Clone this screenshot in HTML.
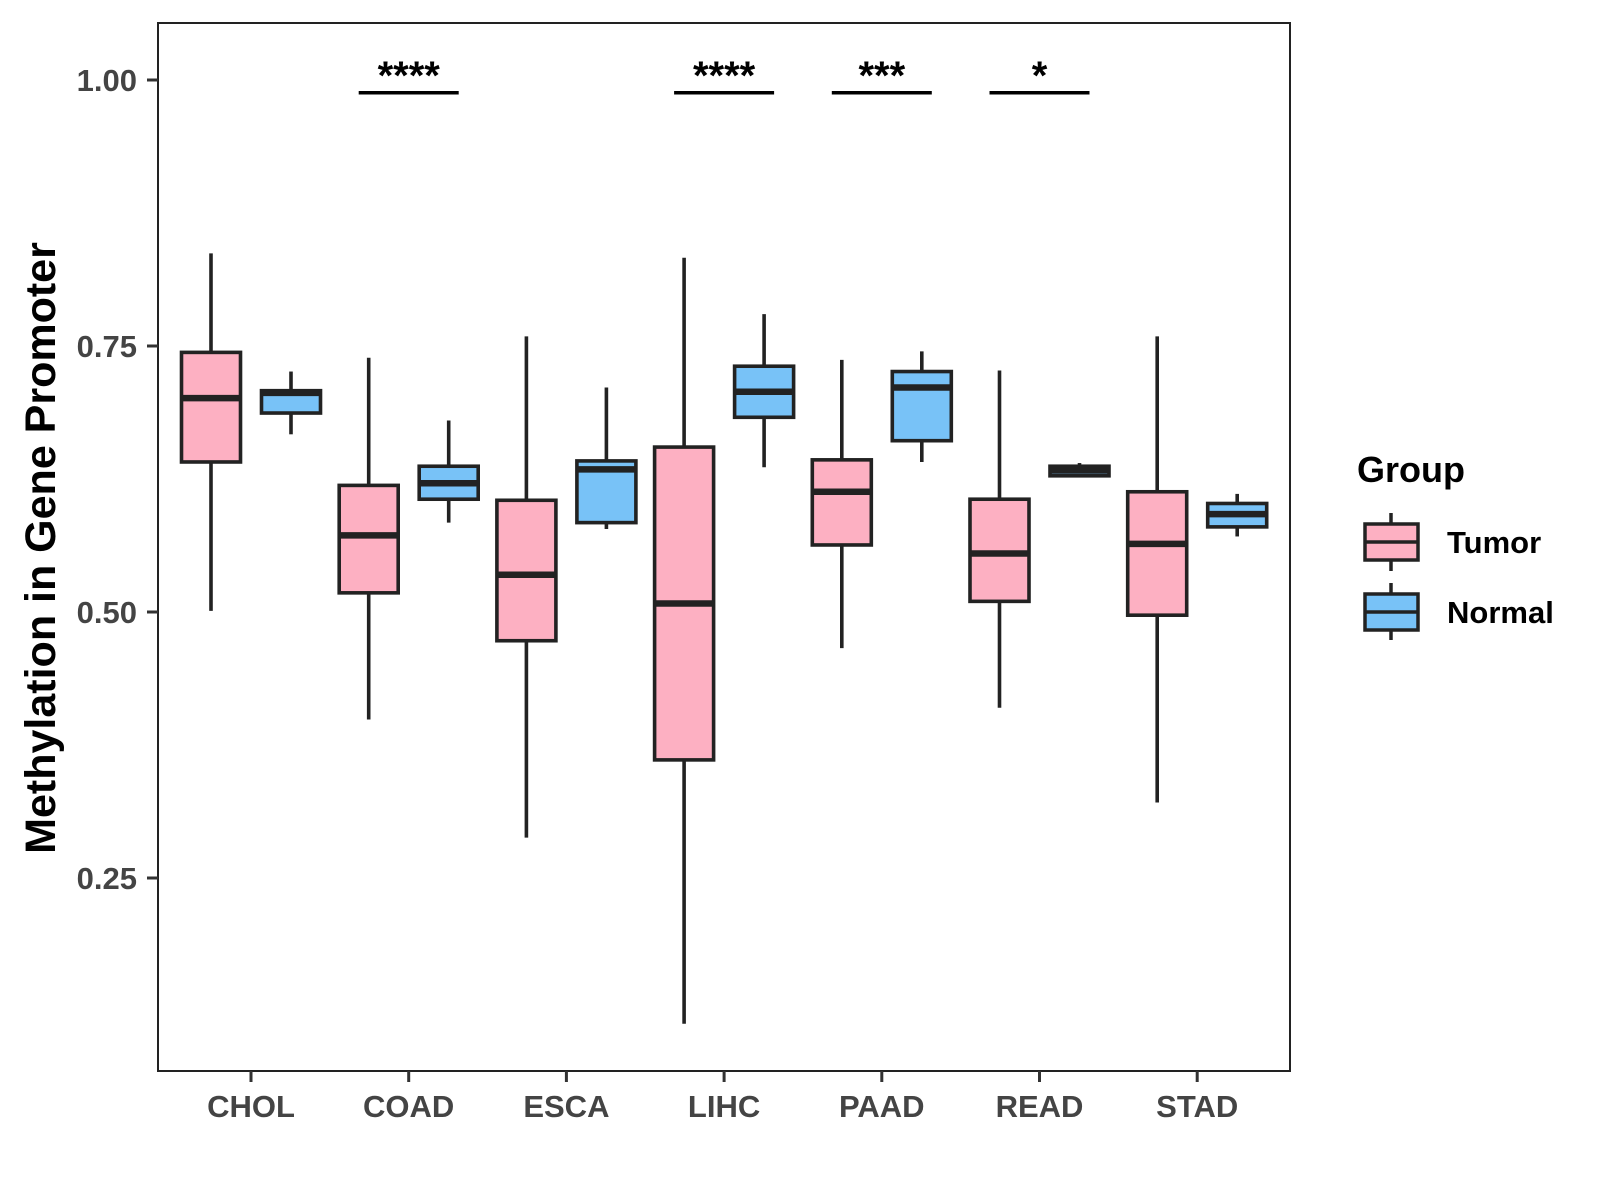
<!DOCTYPE html>
<html><head><meta charset="utf-8"><style>
html,body{margin:0;padding:0;background:#fff;}
svg{display:block;font-family:"Liberation Sans",Arial,sans-serif;}
</style></head><body>
<svg id="chart" width="1600" height="1200" viewBox="0 0 1600 1200">
<rect x="0" y="0" width="1600" height="1200" fill="#fff"/>
<g id="marks"></g>
<rect x="158" y="23" width="1132" height="1048" fill="none" stroke="#222" stroke-width="2"/>
<g id="axes"></g>
<text x="0" y="0" transform="translate(55,548) rotate(-90)" text-anchor="middle" font-size="43" font-weight="bold" fill="#000">Methylation in Gene Promoter</text>
<g>
<text x="1357" y="482" font-size="36" font-weight="bold" fill="#000">Group</text>
<g>
<line x1="1391" y1="513" x2="1391" y2="571" stroke="#222" stroke-width="3.5"/>
<rect x="1365" y="524" width="53" height="36" fill="#FDB0C2" stroke="#222" stroke-width="3.5"/>
<line x1="1365" y1="542" x2="1418" y2="542" stroke="#222" stroke-width="3.5"/>
<text x="1447" y="553" font-size="31" font-weight="bold" fill="#000">Tumor</text>
</g>
<g>
<line x1="1391" y1="583" x2="1391" y2="640" stroke="#222" stroke-width="3.5"/>
<rect x="1365" y="594" width="53" height="36" fill="#78C2F7" stroke="#222" stroke-width="3.5"/>
<line x1="1365" y1="612" x2="1418" y2="612" stroke="#222" stroke-width="3.5"/>
<text x="1447" y="623" font-size="31" font-weight="bold" fill="#000">Normal</text>
</g>
</g>
</svg>
<script>
const categories = ["CHOL","COAD","ESCA","LIHC","PAAD","READ","STAD"];
// [lower whisker, q1, median, q3, upper whisker]
const tumorStats = [
 [0.501,0.641,0.701,0.744,0.837],
 [0.399,0.518,0.572,0.619,0.739],
 [0.288,0.473,0.535,0.605,0.759],
 [0.113,0.361,0.508,0.655,0.833],
 [0.466,0.563,0.613,0.643,0.737],
 [0.410,0.510,0.555,0.606,0.727],
 [0.321,0.497,0.564,0.613,0.759]
];
const normalStats = [
 [0.667,0.687,0.706,0.708,0.726],
 [0.584,0.606,0.621,0.637,0.680],
 [0.578,0.584,0.634,0.642,0.711],
 [0.636,0.683,0.707,0.731,0.780],
 [0.641,0.661,0.711,0.726,0.745],
 [0.628,0.628,0.633,0.637,0.640],
 [0.571,0.580,0.592,0.602,0.611]
];
const sigLabels = ["","****","","****","***","*",""];
const sigLevel = 0.988;
const yTicks = [0.25,0.50,0.75,1.00];
const yTickLabels = ["0.25","0.50","0.75","1.00"];

const NS="http://www.w3.org/2000/svg";
function y(v){return 80 + (1.0 - v)*1064;}
function x(i){return 251 + i*157.7;}
function mk(tag,attrs,parent){const e=document.createElementNS(NS,tag);for(const k in attrs)e.setAttribute(k,attrs[k]);parent.appendChild(e);return e;}
const marks=document.getElementById('marks');
const axes=document.getElementById('axes');
const bw=59, off=40;
function drawBox(s,cx,fill,name){
  const g=mk('g',{},marks);
  
  
  mk('line',{x1:cx,x2:cx,y1:y(s[4]),y2:y(s[0]),stroke:'#222','stroke-width':3.6},g);
  mk('rect',{x:cx-bw/2,y:y(s[3]),width:bw,height:Math.max(y(s[1])-y(s[3]),1),fill:fill,stroke:'#222','stroke-width':3.6},g);
  mk('line',{x1:cx-bw/2,x2:cx+bw/2,y1:y(s[2]),y2:y(s[2]),stroke:'#222','stroke-width':6.5},g);
}
categories.forEach((c,i)=>{
  drawBox(tumorStats[i],x(i)-off,'#FDB0C2','box-tumor-'+c.toLowerCase());
  drawBox(normalStats[i],x(i)+off,'#78C2F7','box-normal-'+c.toLowerCase());
  if(sigLabels[i]){
    const g=mk('g',{},marks);
    
    
    mk('line',{x1:x(i)-50,x2:x(i)+50,y1:y(sigLevel),y2:y(sigLevel),stroke:'#000','stroke-width':3.5},g);
    const t=mk('text',{x:x(i),y:y(sigLevel)-4,'text-anchor':'middle','font-size':40,'font-weight':'bold',fill:'#000'},g);
    t.textContent=sigLabels[i];
  }
  mk('line',{x1:x(i),x2:x(i),y1:1071,y2:1082,stroke:'#333','stroke-width':3},axes);
  const t=mk('text',{x:x(i),y:1117,'text-anchor':'middle','font-size':31,'font-weight':'bold',fill:'#444'},axes);
  
  
  t.textContent=c;
});
yTicks.forEach((v,i)=>{
  mk('line',{x1:147,x2:158,y1:y(v),y2:y(v),stroke:'#333','stroke-width':3},axes);
  const t=mk('text',{x:137,y:y(v)+11,'text-anchor':'end','font-size':31,'font-weight':'bold',fill:'#444'},axes);
  
  
  t.textContent=yTickLabels[i];
});
</script>
</body></html>
